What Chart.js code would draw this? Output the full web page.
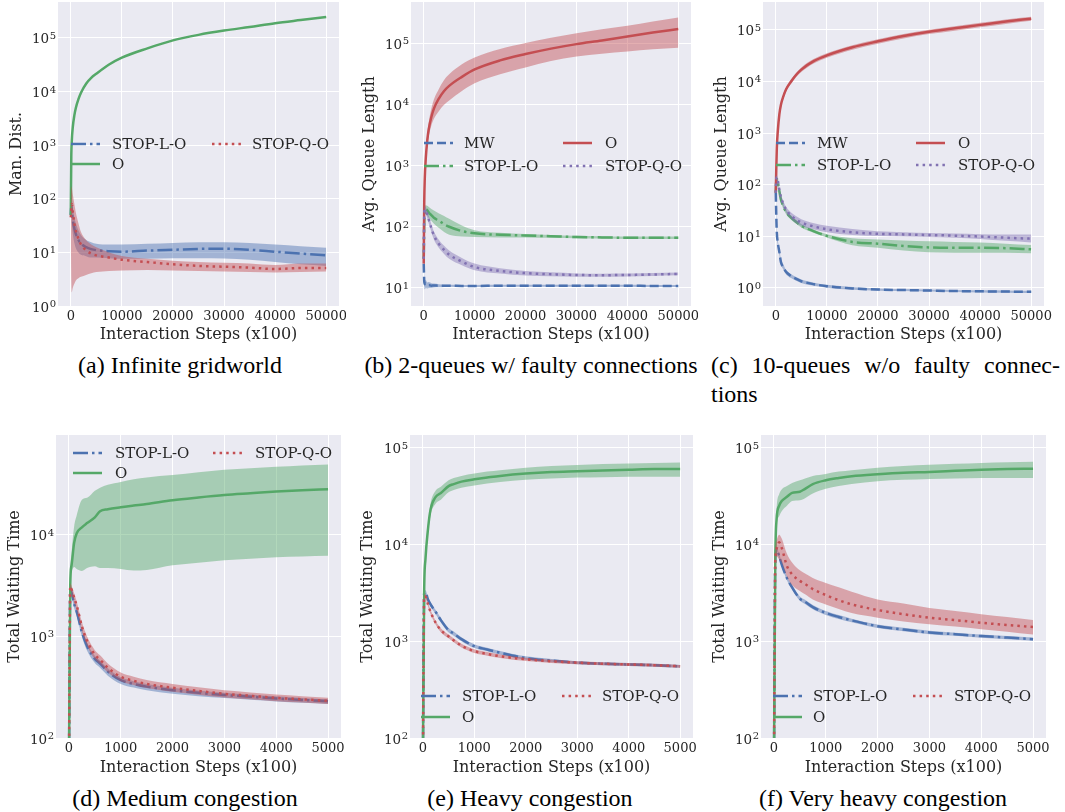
<!DOCTYPE html>
<html lang="en">
<head>
<meta charset="UTF-8">
<title>STOP results</title>
<script src="https://cdn.jsdelivr.net/npm/chart.js"></script>
<style>
  body { margin: 0; background: #fff; }
  #page { position: relative; width: 1065px; height: 812px; overflow: hidden; }
  canvas { position: absolute; }
  .cap { position: absolute; width: 400px; text-align: center; font-family: "Liberation Serif", "Times New Roman", serif;
         font-size: 24px; line-height: 29px; color: #000; white-space: nowrap; }
  .capc { position: absolute; left: 711px; top: 351px; width: 349px; font-family: "Liberation Serif", serif;
          font-size: 24px; line-height: 29px; color: #000; }
  .capc .row { display: flex; justify-content: space-between; }
</style>
</head>
<body>
<div id="page">
  <div class="cap" style="left:-20px;top:351px">(a) Infinite gridworld</div>
  <div class="cap" style="left:331px;top:351px">(b) 2-queues w/ faulty connections</div>
  <div class="capc">
    <div class="row"><span>(c)</span><span>10-queues</span><span>w/o</span><span>faulty</span><span>connec-</span></div>
    <div>tions</div>
  </div>
  <div class="cap" style="left:-15px;top:784px">(d) Medium congestion</div>
  <div class="cap" style="left:330px;top:784px">(e) Heavy congestion</div>
  <div class="cap" style="left:683px;top:784px">(f) Very heavy congestion</div>
</div>

<script>
// x values (interaction steps, x100)
const stepsTop = [0, 100, 200, 400, 700, 1000, 1500, 2000, 3000, 4000, 5000, 7500, 10000, 15000, 20000, 25000, 30000, 35000, 40000, 45000, 50000];
const stepsBottom = [0, 25, 50, 100, 150, 250, 350, 500, 600, 750, 1000, 1250, 1500, 2000, 2500, 3000, 3500, 4000, 4500, 5000];

// (a) infinite gridworld
const gridO = [50, 600, 1200, 2200, 3600, 5000, 7200, 9500, 14000, 18000, 21500, 32000, 43000, 64000, 90000, 114000, 137000, 160000, 188000, 215000, 245000];
const gridStopL = [50, 75, 60, 40, 28, 22, 17, 14.5, 12.5, 11.5, 11, 10.5, 10.3, 10.8, 11.2, 11.6, 11.7, 11.2, 10.3, 9.5, 8.8];
const gridStopLHi = [60, 110, 100, 70, 45, 35, 26, 21, 17, 15.5, 14.5, 14, 14, 14.5, 15, 15.5, 15.5, 15, 14, 13, 12.2];
const gridStopLLo = [40, 50, 35, 22, 15, 12, 10, 9, 8.5, 8, 8, 7.8, 7.6, 7.6, 7.8, 7.8, 7.7, 7.3, 6.6, 6, 5.6];
const gridStopQ = [45, 60, 80, 55, 35, 25, 18, 14, 11, 9.5, 8.8, 8, 7.3, 6.6, 6, 5.6, 5.4, 5.2, 4.9, 5.1, 5.1];
const gridStopQHi = [60, 170, 160, 120, 80, 55, 35, 24, 17, 14, 12.5, 10, 8.6, 7.6, 7, 6.6, 6.4, 6.2, 5.8, 6.2, 6.2];
const gridStopQLo = [35, 3, 1.8, 2.2, 2.6, 3, 3.3, 3.5, 3.8, 4.1, 4.3, 4.5, 4.6, 4.7, 4.6, 4.5, 4.4, 4.3, 4.2, 4.3, 4.4];

// (b) 2-queues w/ faulty connections
const q2MW = [25, 13, 11.5, 11.8, 11, 11.2, 10.9, 11, 10.9, 10.9, 10.9, 10.8, 10.8, 10.9, 10.9, 10.9, 10.9, 10.9, 10.9, 10.8, 10.8];
const q2MWHi = [28, 15, 13, 13.5, 12.3, 12.5, 12, 11.8, 11.5, 11.3, 11.3, 11.2, 11.2, 11.3, 11.3, 11.3, 11.3, 11.3, 11.3, 11.2, 11.2];
const q2MWLo = [22, 10.5, 9.5, 10, 9.8, 10, 10, 10.2, 10.3, 10.4, 10.5, 10.4, 10.4, 10.5, 10.5, 10.5, 10.5, 10.5, 10.5, 10.4, 10.4];
const q2O = [25, 250, 600, 1300, 2600, 4000, 6200, 8500, 12500, 16500, 20000, 28000, 37000, 52000, 66000, 81000, 96000, 110000, 128000, 148000, 170000];
const q2OHi = [30, 300, 700, 1600, 3300, 5200, 8500, 12000, 18000, 25000, 31000, 45000, 58000, 80000, 100000, 122000, 145000, 168000, 192000, 225000, 260000];
const q2OLo = [20, 200, 500, 1050, 2000, 3000, 4500, 5800, 7800, 9800, 11500, 16500, 22000, 31000, 40000, 51000, 60000, 67000, 73000, 79000, 84000];
const q2StopL = [30, 120, 180, 195, 185, 170, 155, 140, 125, 110, 100, 85, 78, 74, 72, 70, 68, 67, 66, 66, 66];
const q2StopLHi = [35, 140, 210, 225, 220, 210, 195, 185, 165, 150, 135, 105, 88, 80, 76, 73, 71, 70, 69, 69, 69];
const q2StopLLo = [25, 100, 150, 165, 150, 140, 125, 112, 95, 82, 74, 69, 68, 67, 67, 66, 65, 64, 63, 63, 63];
const q2StopQ = [30, 150, 190, 185, 160, 130, 95, 72, 52, 42, 35, 27, 22, 19, 17.5, 16.8, 16.3, 16.2, 16.3, 16.6, 17];
const q2StopQHi = [33, 170, 215, 210, 185, 150, 110, 84, 61, 49, 41, 31, 25, 21, 19, 18, 17.3, 17.1, 17.2, 17.5, 17.9];
const q2StopQLo = [27, 130, 165, 160, 138, 112, 82, 62, 45, 36, 30, 23.5, 19.5, 17.2, 16, 15.6, 15.3, 15.3, 15.4, 15.7, 16.1];

// (c) 10-queues w/o faulty connections
const q10MW = [70, 25, 12, 7.5, 5, 3.2, 2.5, 2.05, 1.7, 1.5, 1.35, 1.18, 1.08, 0.98, 0.93, 0.91, 0.89, 0.87, 0.86, 0.85, 0.84];
const q10MWHi = [75, 30, 14, 8.5, 5.6, 3.6, 2.8, 2.25, 1.85, 1.62, 1.45, 1.26, 1.15, 1.04, 0.98, 0.95, 0.93, 0.91, 0.9, 0.89, 0.88];
const q10MWLo = [65, 21, 10, 6.6, 4.4, 2.9, 2.25, 1.85, 1.55, 1.38, 1.25, 1.1, 1.01, 0.92, 0.88, 0.87, 0.85, 0.83, 0.82, 0.81, 0.8];
const q10O = [70, 200, 500, 1100, 2300, 3500, 5200, 7000, 10000, 13500, 17000, 25000, 32000, 46000, 60000, 76000, 92000, 107000, 125000, 145000, 165000];
const q10OHi = [77, 220, 550, 1210, 2530, 3850, 5700, 7700, 11000, 14800, 18700, 27500, 35200, 50500, 66000, 83500, 101000, 118000, 137000, 159000, 180000];
const q10OLo = [63, 180, 450, 990, 2070, 3150, 4700, 6300, 9000, 12200, 15300, 22500, 28800, 41400, 54000, 68400, 82800, 96300, 112500, 130500, 150000];
const q10StopL = [70, 120, 130, 115, 75, 52, 38, 30, 23, 19, 16, 12.5, 10.2, 7.8, 7.2, 6.5, 6.1, 6, 6, 5.9, 5.6];
const q10StopLHi = [75, 130, 140, 125, 82, 57, 42, 33, 25, 20.5, 17.3, 13.4, 11, 9.2, 8.7, 8.3, 8, 7.8, 7.6, 7.2, 6.8];
const q10StopLLo = [65, 110, 120, 105, 68, 47, 34, 27, 21, 17.5, 14.8, 11.6, 9.5, 6.7, 6, 5.3, 4.9, 4.8, 4.8, 4.8, 4.7];
const q10StopQ = [70, 130, 140, 120, 80, 58, 42, 33, 25, 21, 18.5, 15.5, 13.7, 12, 11.2, 10.9, 10.6, 10.3, 9.9, 9.4, 9];
const q10StopQHi = [75, 140, 152, 132, 90, 66, 48, 38, 29, 24.5, 21.5, 18, 16, 13.8, 12.5, 12, 11.6, 11.3, 11, 10.8, 10.8];
const q10StopQLo = [65, 120, 128, 108, 71, 51, 37, 29, 22, 18, 16, 13.5, 12, 10.6, 10.1, 9.9, 9.7, 9.4, 8.9, 8.2, 7.6];

// (d) medium congestion
const medO = [50, 3200, 5000, 8300, 10300, 11800, 13000, 14800, 17000, 17800, 18600, 19300, 20000, 21800, 23200, 24500, 25500, 26500, 27300, 28000];
const medOHi = [50, 3300, 6500, 12000, 15500, 22000, 23000, 27000, 29000, 31000, 33000, 35000, 36500, 38500, 41000, 43500, 45000, 46500, 48000, 49000];
const medOLo = [50, 3100, 4300, 4800, 4600, 4400, 4700, 4900, 4700, 4700, 4600, 4450, 4500, 5000, 5300, 5600, 5800, 6000, 6100, 6200];
const medStopL = [50, 3000, 2700, 2100, 1750, 1100, 800, 600, 540, 450, 370, 340, 320, 295, 278, 265, 255, 245, 237, 230];
const medStopLHi = [50, 3150, 2850, 2250, 1880, 1190, 860, 645, 580, 485, 395, 362, 340, 312, 293, 279, 268, 257, 248, 240];
const medStopLLo = [50, 2800, 2450, 1900, 1580, 990, 720, 545, 490, 410, 340, 313, 295, 273, 258, 247, 238, 229, 222, 216];
const medStopQ = [50, 3100, 2900, 2400, 2000, 1250, 900, 660, 590, 490, 400, 365, 340, 312, 290, 272, 260, 248, 240, 232];
const medStopQHi = [50, 3300, 3150, 2650, 2200, 1380, 995, 730, 650, 540, 440, 400, 372, 340, 315, 295, 281, 268, 258, 249];
const medStopQLo = [50, 2900, 2650, 2150, 1800, 1120, 810, 595, 530, 442, 362, 332, 310, 285, 266, 250, 240, 230, 223, 216];

// (e) heavy congestion
const heavyO = [50, 3200, 7000, 14500, 23000, 31000, 34000, 40000, 42000, 44500, 47000, 49000, 51000, 54000, 56000, 57000, 58000, 59000, 60000, 60000];
const heavyOHi = [50, 3300, 7800, 16500, 26500, 36000, 39500, 46000, 48500, 51000, 54000, 56500, 58500, 62000, 64500, 66000, 67500, 68500, 69500, 70000];
const heavyOLo = [50, 3100, 6300, 12500, 20000, 26500, 29000, 34500, 36500, 38500, 40500, 42500, 44000, 46500, 48000, 49000, 49500, 50000, 50000, 50000];
const heavyStopL = [50, 3100, 3200, 2700, 2400, 2000, 1650, 1300, 1200, 1050, 890, 820, 760, 670, 630, 600, 585, 575, 565, 550];
const heavyStopLHi = [50, 3250, 3350, 2850, 2530, 2100, 1740, 1370, 1260, 1100, 930, 855, 792, 697, 655, 622, 606, 595, 584, 568];
const heavyStopLLo = [50, 2950, 3050, 2560, 2270, 1900, 1560, 1230, 1140, 1000, 850, 785, 728, 643, 605, 578, 564, 555, 546, 532];
const heavyStopQ = [50, 2900, 2900, 2400, 2000, 1550, 1300, 1120, 1020, 900, 790, 740, 700, 650, 620, 600, 585, 575, 565, 550];
const heavyStopQHi = [50, 3000, 3050, 2520, 2100, 1620, 1360, 1170, 1065, 940, 825, 772, 730, 676, 644, 622, 606, 595, 584, 568];
const heavyStopQLo = [50, 2800, 2760, 2280, 1900, 1480, 1240, 1070, 975, 860, 755, 708, 670, 624, 596, 578, 564, 555, 546, 532];

// (f) very heavy congestion
const vheavyO = [50, 6000, 18000, 25000, 28000, 31000, 34000, 35000, 37500, 42000, 46000, 48500, 50500, 53000, 55000, 56000, 57500, 59000, 60000, 60500];
const vheavyOHi = [50, 6500, 22000, 33000, 37000, 40000, 43000, 46000, 48000, 51000, 53500, 56500, 58500, 62000, 64500, 66500, 68000, 69500, 70500, 71500];
const vheavyOLo = [50, 5500, 15000, 19500, 22000, 25000, 28000, 28500, 30000, 33500, 37500, 40000, 42000, 45000, 46500, 47500, 48000, 48500, 48500, 48500];
const vheavyStopL = [50, 7000, 9000, 7600, 6200, 4500, 3600, 2750, 2550, 2250, 1960, 1780, 1640, 1430, 1320, 1230, 1180, 1130, 1090, 1050];
const vheavyStopLHi = [50, 7300, 9400, 8000, 6550, 4750, 3800, 2900, 2680, 2360, 2050, 1860, 1710, 1490, 1375, 1280, 1225, 1175, 1130, 1090];
const vheavyStopLLo = [50, 6700, 8600, 7200, 5900, 4250, 3420, 2610, 2420, 2140, 1870, 1700, 1570, 1370, 1265, 1180, 1135, 1085, 1050, 1010];
const vheavyStopQ = [50, 6500, 9000, 10500, 9200, 6000, 4900, 4200, 3900, 3450, 3000, 2650, 2400, 2100, 1900, 1750, 1650, 1550, 1470, 1400];
const vheavyStopQHi = [50, 7500, 11000, 12600, 11500, 8000, 6500, 5400, 5000, 4500, 4000, 3600, 3250, 2700, 2450, 2200, 2050, 1900, 1780, 1660];
const vheavyStopQLo = [50, 5500, 7500, 7000, 6500, 4700, 3800, 3300, 3050, 2700, 2400, 2150, 1950, 1750, 1600, 1500, 1420, 1330, 1250, 1170];

const BLUE = '#4C72B0', GREEN = '#55A868', RED = '#C44E52', PURPLE = '#8172B2';
const TEXT = '#262626';
const FONT = '"DejaVu Serif", serif';
const DASH = { 'MW': [9, 4], 'STOP-L-O': [15, 4, 2.5, 4], 'STOP-Q-O': [2.5, 4.1], 'O': [] };

Chart.defaults.font.family = FONT;
Chart.defaults.color = TEXT;

// box = canvas [left, top, w, h], plot = chart area [left, top, right, bottom] in page px
const panels = [
  { box: [0, 0, 346, 344], plot: [58, 2, 339, 306], x: stepsTop, xMax: 50000, yLog: [0, 5.67],
    yTitle: 'Man. Dist.', yTitleX: 17,
    series: [['STOP-L-O', BLUE, gridStopL, gridStopLLo, gridStopLHi],
             ['O', GREEN, gridO, null, null],
             ['STOP-Q-O', RED, gridStopQ, gridStopQLo, gridStopQHi]],
    legend: [['STOP-L-O', 71, 112, 144], ['O', 71, 112, 164], ['STOP-Q-O', 212, 252, 144]] },
  { box: [352, 0, 346, 344], plot: [411, 2, 691, 306], x: stepsTop, xMax: 50000, yLog: [0.706, 5.67],
    yTitle: 'Avg. Queue Length', yTitleX: 18,
    series: [['MW', BLUE, q2MW, q2MWLo, q2MWHi],
             ['STOP-L-O', GREEN, q2StopL, q2StopLLo, q2StopLHi],
             ['O', RED, q2O, q2OLo, q2OHi],
             ['STOP-Q-O', PURPLE, q2StopQ, q2StopQLo, q2StopQHi]],
    legend: [['MW', 424, 464, 143], ['STOP-L-O', 424, 464, 166], ['O', 563, 605, 143], ['STOP-Q-O', 563, 605, 166]] },
  { box: [704, 0, 350, 344], plot: [763, 2, 1044, 306], x: stepsTop, xMax: 50000, yLog: [-0.35, 5.54],
    yTitle: 'Avg. Queue Length', yTitleX: 18,
    series: [['MW', BLUE, q10MW, q10MWLo, q10MWHi],
             ['STOP-L-O', GREEN, q10StopL, q10StopLLo, q10StopLHi],
             ['O', RED, q10O, q10OLo, q10OHi],
             ['STOP-Q-O', PURPLE, q10StopQ, q10StopQLo, q10StopQHi]],
    legend: [['MW', 776, 817, 143], ['STOP-L-O', 776, 817, 165], ['O', 916, 958, 143], ['STOP-Q-O', 916, 958, 165]] },
  { box: [0, 420, 346, 357], plot: [56, 435, 341, 738], x: stepsBottom, xMax: 5000, yLog: [2, 4.98],
    yTitle: 'Total Waiting Time', yTitleX: 15,
    series: [['STOP-L-O', BLUE, medStopL, medStopLLo, medStopLHi],
             ['O', GREEN, medO, medOLo, medOHi],
             ['STOP-Q-O', RED, medStopQ, medStopQLo, medStopQHi]],
    legend: [['STOP-L-O', 73, 115, 453], ['O', 73, 115, 473], ['STOP-Q-O', 213, 255, 453]] },
  { box: [352, 420, 346, 357], plot: [410, 435, 693, 738], x: stepsBottom, xMax: 5000, yLog: [2, 5.13],
    yTitle: 'Total Waiting Time', yTitleX: 16,
    series: [['STOP-L-O', BLUE, heavyStopL, heavyStopLLo, heavyStopLHi],
             ['O', GREEN, heavyO, heavyOLo, heavyOHi],
             ['STOP-Q-O', RED, heavyStopQ, heavyStopQLo, heavyStopQHi]],
    legend: [['STOP-L-O', 421, 462, 696], ['O', 421, 462, 717], ['STOP-Q-O', 562, 602, 696]] },
  { box: [704, 420, 350, 357], plot: [761, 435, 1046, 738], x: stepsBottom, xMax: 5000, yLog: [2, 5.13],
    yTitle: 'Total Waiting Time', yTitleX: 16,
    series: [['STOP-L-O', BLUE, vheavyStopL, vheavyStopLLo, vheavyStopLHi],
             ['O', GREEN, vheavyO, vheavyOLo, vheavyOHi],
             ['STOP-Q-O', RED, vheavyStopQ, vheavyStopQLo, vheavyStopQHi]],
    legend: [['STOP-L-O', 773, 813, 696], ['O', 773, 813, 717], ['STOP-Q-O', 913, 954, 696]] }
];

function alpha(hex, a) {
  const n = parseInt(hex.slice(1), 16);
  return `rgba(${n >> 16}, ${(n >> 8) & 255}, ${n & 255}, ${a})`;
}
function pts(xs, ys) { return xs.map((x, i) => ({ x, y: ys[i] })); }

const lineBase = { pointRadius: 0, cubicInterpolationMode: 'monotone', spanGaps: true };

const bgPlugin = {
  id: 'plotBg',
  beforeDraw(chart) {
    const { ctx, chartArea: a } = chart;
    ctx.save();
    ctx.fillStyle = '#EAEAF2';
    ctx.fillRect(a.left, a.top, a.right - a.left, a.bottom - a.top);
    ctx.restore();
  }
};

// log tick labels as "10" with a raised exponent
const powLabels = {
  id: 'powLabels',
  afterDraw(chart) {
    const s = chart.scales.y;
    const ctx = chart.ctx;
    ctx.save();
    ctx.fillStyle = TEXT;
    ctx.textAlign = 'right';
    ctx.textBaseline = 'alphabetic';
    s.ticks.forEach(t => {
      const y = s.getPixelForValue(t.value);
      const e = String(Math.round(Math.log10(t.value)));
      const xr = s.right - 2;
      ctx.font = '10px ' + FONT;
      const ew = ctx.measureText(e).width;
      ctx.fillText(e, xr, y + 1);
      ctx.font = '13.5px ' + FONT;
      ctx.fillText('10', xr - ew - 0.5, y + 5.5);
    });
    ctx.restore();
  }
};

function legendPlugin(p) {
  return {
    id: 'inlineLegend',
    afterDraw(chart) {
      const ctx = chart.ctx;
      const ox = p.box[0], oy = p.box[1];
      ctx.save();
      ctx.font = '15px ' + FONT;
      ctx.textBaseline = 'middle';
      ctx.textAlign = 'left';
      p.legend.forEach(([label, sx, tx, y]) => {
        const s = p.series.find(q => q[0] === label);
        ctx.strokeStyle = s[1];
        ctx.lineWidth = 2.5;
        ctx.setLineDash(DASH[label]);
        ctx.beginPath();
        ctx.moveTo(sx - ox, y - oy);
        ctx.lineTo(sx - ox + 29, y - oy);
        ctx.stroke();
        ctx.setLineDash([]);
        ctx.fillStyle = TEXT;
        ctx.fillText(label, tx - ox, y - oy + 1);
      });
      ctx.restore();
    }
  };
}

const page = document.getElementById('page');

panels.forEach(p => {
  const [cl, ct, cw, ch] = p.box;
  const [pl, pt, pr, pb] = p.plot;
  const cv = document.createElement('canvas');
  cv.width = cw; cv.height = ch;
  cv.style.left = cl + 'px'; cv.style.top = ct + 'px';
  cv.style.width = cw + 'px'; cv.style.height = ch + 'px';
  page.appendChild(cv);

  // bottom-to-top drawing order
  const datasets = [];
  p.series.forEach(([label, color, mean, lo, hi]) => {
    if (lo) {
      datasets.push({ ...lineBase, data: pts(p.x, lo), borderWidth: 0, borderColor: 'transparent', fill: false });
      datasets.push({ ...lineBase, data: pts(p.x, hi), borderWidth: 0, borderColor: 'transparent',
                      fill: '-1', backgroundColor: alpha(color, 0.45) });
    }
    datasets.push({ ...lineBase, label, data: pts(p.x, mean), borderColor: color, borderWidth: 2.5,
                    borderDash: DASH[label], fill: false });
  });
  datasets.forEach((d, i) => { d.order = datasets.length - i; });

  const decades = [];
  for (let k = -1; k <= 6; k++) decades.push(Math.pow(10, k));

  new Chart(cv, {
    type: 'line',
    data: { datasets },
    options: {
      responsive: false,
      animation: false,
      events: [],
      layout: { padding: { left: 0, top: pt - ct, right: cl + cw - pr, bottom: 0 } },
      plugins: { legend: { display: false }, tooltip: { enabled: false } },
      scales: {
        x: {
          type: 'linear',
          min: -0.05 * p.xMax, max: 1.05 * p.xMax,
          afterBuildTicks: s => { s.ticks = [0, 1, 2, 3, 4, 5].map(k => ({ value: k * p.xMax / 5 })); },
          afterFit: s => { s.height = ct + ch - pb; s.paddingLeft = 0; s.paddingRight = 0; },
          grid: { color: '#ffffff', lineWidth: 1, drawTicks: false },
          border: { display: false },
          ticks: { font: { size: 13 }, color: TEXT, padding: 3, maxRotation: 0, autoSkip: false,
                   callback: v => String(v) },
          title: { display: true, text: 'Interaction Steps (x100)', font: { size: 16 }, color: TEXT,
                   padding: { top: 0, bottom: 0 } }
        },
        y: {
          type: 'logarithmic',
          min: Math.pow(10, p.yLog[0]), max: Math.pow(10, p.yLog[1]),
          afterBuildTicks: s => {
            s.ticks = decades.filter(v => v >= s.min * 0.999 && v <= s.max * 1.001).map(v => ({ value: v }));
          },
          afterFit: s => { s.width = pl - cl; s.paddingTop = 0; s.paddingBottom = 0; },
          grid: { color: '#ffffff', lineWidth: 1, drawTicks: false },
          border: { display: false },
          ticks: { display: false, autoSkip: false },
          title: { display: true, text: p.yTitle, font: { size: 16 }, color: TEXT,
                   padding: { top: p.yTitleX - 9.6, bottom: 0 } }
        }
      }
    },
    plugins: [bgPlugin, powLabels, legendPlugin(p)]
  });
});
</script>
</body>
</html>
